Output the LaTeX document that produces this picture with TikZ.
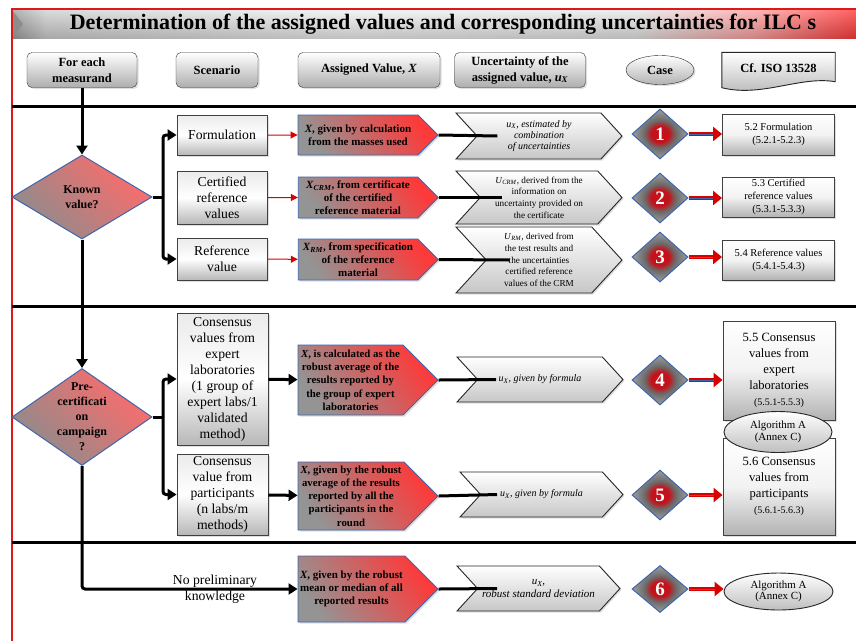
\documentclass[tikz,border=0pt]{standalone}
\usepackage{fontspec}
\setmainfont{Liberation Serif}
\usetikzlibrary{shapes.geometric,shapes.symbols,arrows.meta,shadows,calc}

\definecolor{frameRed}{RGB}{222,24,24}
\definecolor{edgeBlue}{RGB}{62,102,172}
\definecolor{caseRed}{RGB}{196,18,26}

% horizontal grey-to-red band used behind the title
\pgfdeclarehorizontalshading{titlebar}{100bp}{color(0bp)=(black!42); color(25bp)=(black!42); color(27bp)=(black!20); color(45bp)=(black!6); color(62bp)=(black!10); color(69bp)=(red!40); color(75bp)=(red!85); color(100bp)=(red!85)}
% red ball in the middle of each case diamond
\pgfdeclareradialshading{caseball}{\pgfpoint{0bp}{0bp}}{color(0bp)=(caseRed); color(8bp)=(caseRed); color(14bp)=(black!58); color(25bp)=(black!38); color(50bp)=(black!38)}

\tikzset{
  shadowed/.style={drop shadow={opacity=0.25,shadow xshift=1.5pt,shadow yshift=-1.5pt}},
  headbox/.style={shadowed,draw=black!80,rounded corners=5pt,top color=white,bottom color=black!32,
    minimum height=35pt,align=center,inner sep=1pt,font=\fontsize{12.5}{16}\selectfont\bfseries},
  scenbox/.style={shadowed,draw=black!75,line width=0.9pt,top color=black!8,bottom color=black!28,middle color=white,
    minimum width=90pt,align=center,inner sep=1pt,font=\fontsize{13.7}{16}\selectfont},
  xbox/.style={shadowed,signal,signal to=east,signal pointer angle=90,draw=edgeBlue,line width=0.9pt,
    top color=red!78,bottom color=black!42,shading angle=-55,minimum width=140pt,
    align=center,inner sep=1pt,font=\fontsize{11}{12.7}\selectfont\bfseries},
  ubox/.style={shadowed,signal,signal from=west,signal to=east,signal pointer angle=95,draw=black!85,line width=0.9pt,
    top color=white,bottom color=black!22,minimum width=166pt,
    align=center,inner sep=1pt,font=\fontsize{9.2}{11.7}\selectfont},
  casediam/.style={diamond,draw=edgeBlue,line width=1pt,shading=caseball,
    minimum width=56pt,minimum height=50pt,inner sep=0pt},
  casenum/.style={text=white,font=\fontsize{19}{19}\selectfont\bfseries,inner sep=0pt},
  isobox/.style={shadowed,draw=black!75,line width=0.9pt,top color=white,bottom color=black!30,middle color=black!5,
    minimum width=112pt,align=center,inner sep=1pt,font=\fontsize{10.5}{13}\selectfont},
  algo/.style={ellipse,draw=black!85,line width=0.9pt,top color=white,bottom color=black!25,
    minimum width=108pt,minimum height=40pt,inner sep=0pt,align=center,font=\fontsize{10.9}{11.7}\selectfont},
  bigdiam/.style={diamond,draw=edgeBlue,line width=1pt,top color=red!58,bottom color=black!45,shading angle=-45,
    minimum width=140pt,inner sep=0pt},
  diamtext/.style={align=center,inner sep=0pt,font=\fontsize{12}{15}\selectfont\bfseries},
  flow/.style={line width=3pt,-{Triangle[length=9pt,width=11pt]}},
  plain/.style={line width=3pt},
  thinred/.style={red!85!black,line width=1pt,-{Triangle[length=7pt,width=7pt]}},
  redarrow/.style={line width=4.5pt,red!85!black,-{Triangle[length=9pt,width=14pt]}},
  redcore/.style={line width=1pt,edgeBlue,shorten >=9pt},
  separator/.style={line width=3pt,black}
}

\begin{document}
\begin{tikzpicture}[x=1pt,y=-1pt]
\fill[white] (0,0) rectangle (856,641);
\useasboundingbox (0,0) rectangle (856,641);

% title band
\shade[shading=titlebar] (12,10) rectangle (856,38);
\shade[top color=white,bottom color=black!70,opacity=0.28] (12,10) rectangle (856,38);
\fill[black!45] (12,10) -- (23,24) -- (12,38) -- cycle;
\node[font=\fontsize{22}{22}\selectfont\bfseries] (title) at (443,24)
  {Determination of the assigned values and corresponding uncertainties for ILC s};
\draw[frameRed,line width=2.2pt] (12,641) -- (12,9) -- (856,9);

% column headings
\node[headbox,minimum width=110pt] (hm) at (82,70) {For each\\measurand};
\node[headbox,minimum width=82pt] (hs) at (217,70) {Scenario};
\node[headbox,minimum width=142pt] (ha) at (369,70) {Assigned Value, \textit{X}};
\node[headbox,minimum width=131pt] (hu) at (520,70) {Uncertainty of the\\assigned value, \textit{u}\textsubscript{\textit{X}}};
\node[ellipse,shadowed,draw=black!85,top color=white,bottom color=black!30,minimum width=68pt,minimum height=29pt,
  inner sep=0pt,font=\fontsize{12.5}{16}\selectfont\bfseries] (hc) at (660,70) {Case};
\node[minimum width=113pt,minimum height=35pt,inner sep=0pt] (hi) at (778.5,70) {};
\shade[top color=white,bottom color=black!30,draw=black!85,line width=0.9pt]
  (hi.north west) -- (hi.north east) -- ($(hi.south east)+(0,-6)$)
  .. controls ($(hi.south east)+(-35,-12)$) and ($(hi.south west)+(40,10)$) .. (hi.south west) -- cycle;
\node[font=\fontsize{12.5}{16}\selectfont\bfseries] (hitext) at ($(hi.center)+(0,-2)$) {Cf. ISO 13528};

% row separators
\draw[separator] (12,106) -- (856,106);
\draw[separator] (12,306) -- (856,306);
\draw[separator] (12,542) -- (856,542);

% known value branch
\node[bigdiam,minimum height=84pt] (kv) at (82,197) {};
\node[diamtext] (kvt) at (kv) {Known\\value?};
\node[scenbox,minimum height=40pt] (sf) at (222,135) {Formulation};
\node[scenbox,minimum height=53pt] (sc) at (222,197.5) {Certified\\reference\\values};
\node[scenbox,minimum height=42pt] (sr) at (222,259) {Reference\\value};

\node[xbox,minimum height=40pt] (x1) at (358,135) {\textit{X}, given by calculation\\from the masses used};
\node[xbox,minimum height=41pt] (x2) at (358,197.5) {\textit{X}\textsubscript{\textit{CRM}}, from certificate\\of the certified\\reference material};
\node[xbox,minimum height=41pt] (x3) at (358,259.5) {\textit{X}\textsubscript{\textit{RM}}, from specification\\of the reference\\material};

\node[ubox,minimum height=46pt,font=\fontsize{10}{11.3}\selectfont\itshape] (u1) at (539,136)
  {\textit{u}\textsubscript{\textit{X}}, estimated by\\combination\\of uncertainties};
\node[ubox,minimum height=53pt] (u2) at (539,197.5)
  {\textit{U}\textsubscript{\textit{CRM}}, derived from the\\information on\\uncertainty provided on\\the certificate};
\node[ubox,minimum height=66pt] (u3) at (539,260)
  {\textit{U}\textsubscript{\textit{RM}}, derived from\\the test results and\\the uncertainties\\certified reference\\values of the CRM};

\node[casediam] (c1) at (660,134) {};
\node[casenum] (n1) at (c1) {1};
\node[casediam] (c2) at (660,198) {};
\node[casenum] (n2) at (c2) {2};
\node[casediam] (c3) at (660,257) {};
\node[casenum] (n3) at (c3) {3};

\node[isobox,minimum height=41pt] (i1) at (778.5,134.5) {5.2 Formulation\\(5.2.1-5.2.3)};
\node[isobox,minimum height=40pt] (i2) at (778.5,197) {5.3 Certified\\reference values\\(5.3.1-5.3.3)};
\node[isobox,minimum height=40pt] (i3) at (778.5,260) {5.4 Reference values\\(5.4.1-5.4.3)};

% pre-certification branch
\node[bigdiam,minimum height=97pt] (pc) at (82,417) {};
\node[diamtext] (pct) at (pc) {Pre-\\certificati\\on\\campaign\\?};
\node[scenbox,minimum width=91pt,minimum height=132pt] (s4) at (222.5,379)
  {Consensus\\values from\\expert\\laboratories\\(1 group of\\expert labs/1\\validated\\method)};
\node[scenbox,minimum width=91pt,minimum height=81pt] (s5) at (222.5,494.5)
  {Consensus\\value from\\participants\\(n labs/m\\methods)};

\node[xbox,minimum height=70pt,font=\fontsize{10.8}{13.3}\selectfont\bfseries] (x4) at (350.5,380)
  {\textit{X}, is calculated as the\\robust average of the\\results reported by\\the group of expert\\laboratories};
\node[xbox,minimum height=68pt,font=\fontsize{10.8}{13.3}\selectfont\bfseries] (x5) at (351,496)
  {\textit{X}, given by the robust\\average of the results\\reported by all the\\participants in the\\round};

\node[ubox,minimum height=45pt,font=\fontsize{10}{12}\selectfont\itshape] (u4) at (540,379.5)
  {\textit{u}\textsubscript{\textit{X}}, given by formula};
\node[ubox,minimum height=45pt,minimum width=163pt,font=\fontsize{10}{12}\selectfont\itshape] (u5) at (541.5,494.5)
  {\textit{u}\textsubscript{\textit{X}}, given by formula};

\node[casediam] (c4) at (660,380) {};
\node[casenum] (n4) at (c4) {4};
\node[casediam] (c5) at (660,495) {};
\node[casenum] (n5) at (c5) {5};

\node[isobox,minimum height=99pt,font=\fontsize{12.6}{16}\selectfont] (i4) at (779,370.5)
  {5.5 Consensus\\values from\\expert\\laboratories\\{\fontsize{10}{13}\selectfont(5.5.1-5.5.3)}};
\node[isobox,minimum height=97pt,font=\fontsize{12.6}{16}\selectfont] (i5) at (779,486.5)
  {5.6 Consensus\\values from\\participants\\{\fontsize{10}{13}\selectfont(5.6.1-5.6.3)}};
\node[algo,minimum height=41pt] (a1) at (778,432) {Algorithm A\\(Annex C)};

% no preliminary knowledge
\node[xbox,minimum height=66pt] (x6) at (351.5,589) {\textit{X}, given by the robust\\mean or median of all\\reported results};
\node[ubox,minimum height=45pt,minimum width=163pt,font=\fontsize{11}{12.5}\selectfont\itshape] (u6) at (538.5,588.5)
  {\textit{u}\textsubscript{\textit{X}},\\robust standard deviation};
\node[casediam,minimum height=47pt] (c6) at (660,589) {};
\node[casenum] (n6) at (c6) {6};
\node[algo,minimum width=109pt,minimum height=37pt] (a2) at (778.5,591.5) {Algorithm A\\(Annex C)};

% main flow
\coordinate (b1) at (163,197);
\coordinate (b2) at (163,417);
\draw[flow] (hm) -- (kv);
\draw[flow] (kv) -- (pc);
\draw[flow,rounded corners=3pt] (pc.south) |- (x6.west);
\node[align=center,font=\fontsize{13.7}{16}\selectfont] (npk) at (215,589) {No preliminary\\knowledge};

\draw[plain] (kv.east) -- (b1);
\draw[flow,rounded corners=3pt] (b1) |- (sf.west);
\draw[flow,rounded corners=3pt] (b1) |- (sr.west);
\draw[plain] (pc.east) -- (b2);
\draw[flow,rounded corners=3pt] (b2) |- (s4.west);
\draw[flow,rounded corners=3pt] (b2) |- (s5.west);

\draw[thinred] (sf) -- (x1);
\draw[thinred] (sc) -- (x2);
\draw[thinred] (sr) -- (x3);
\draw[flow] (s4) -- (x4);
\draw[flow] (s5) -- (x5);

% each assigned value feeds its uncertainty chevron at the notch
\foreach \a/\b/\d in {x1/u1/21,x2/u2/22,x3/u3/24,x4/u4/19,x5/u5/17,x6/u6/20}{
  \draw[plain] (\a.east) -- ($(\b.west)+(\d,0)$);
}
\foreach \a/\b in {c1/i1,c2/i2,c3/i3,c4/i4,c5/i5,c6/a2}{
  \draw[redarrow] (\a.east) -- (\a.east -| \b.west);
  \draw[redcore] (\a.east) -- (\a.east -| \b.west);
}
\end{tikzpicture}
\end{document}
